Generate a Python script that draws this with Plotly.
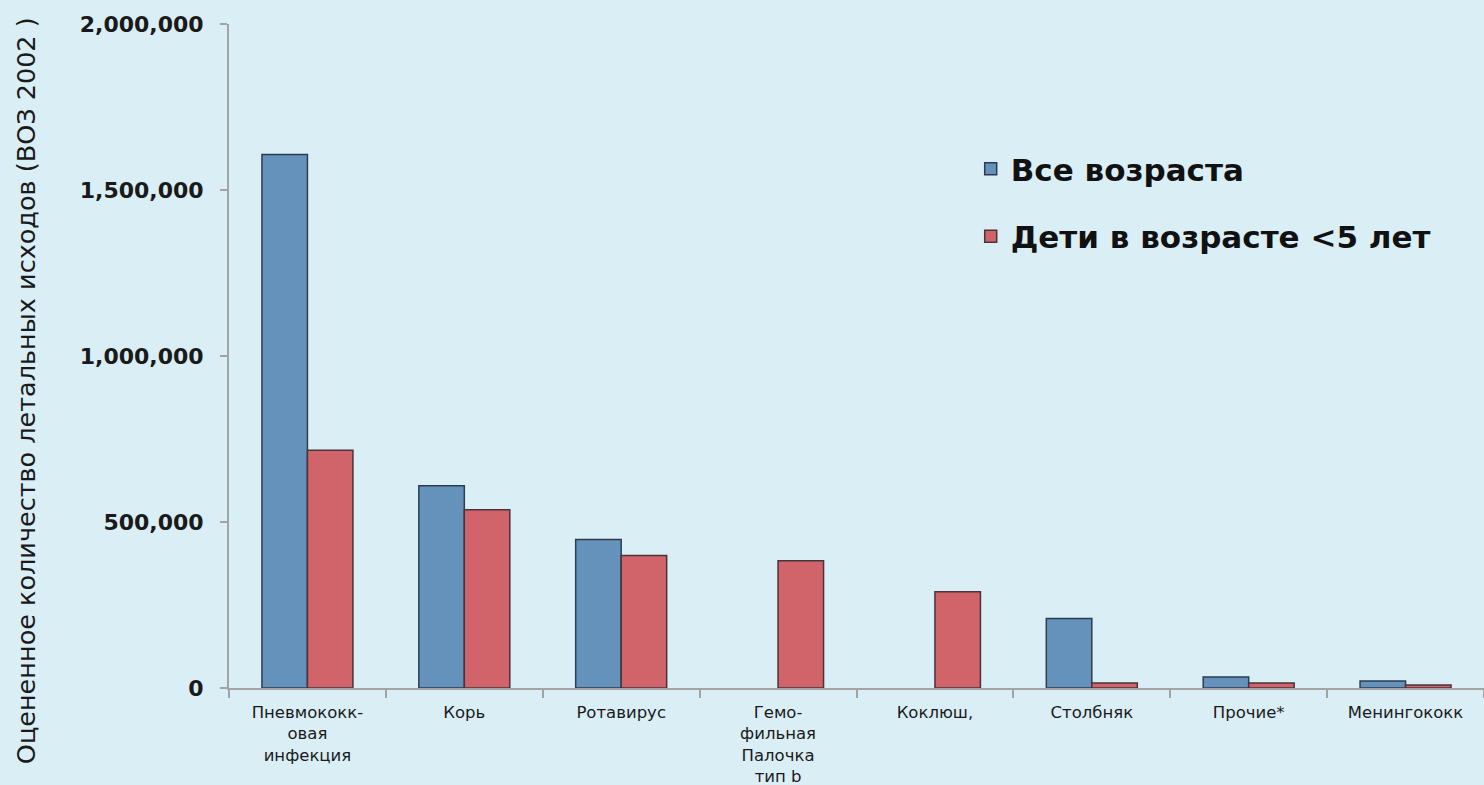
import plotly.graph_objects as go

categories = [
    "Пневмококк-<br>овая<br>инфекция",
    "Корь",
    "Ротавирус",
    "Гемо-<br>фильная<br>Палочка<br>тип b",
    "Коклюш,",
    "Столбняк",
    "Прочие*",
    "Менингококк",
]
all_ages = [1607000, 609000, 447000, None, None, 209000, 33000, 21000]
under5 = [716000, 537000, 399000, 383000, 290000, 15000, 15000, 9000]
y_ticks = [0, 500000, 1000000, 1500000, 2000000]
y_tick_labels = ["0", "500,000", "1,000,000", "1,500,000", "2,000,000"]

bg = "#daeef6"
fig = go.Figure()
fig.add_trace(go.Bar(
    x=categories, y=all_ages, name="Все возраста", legendgroup="a",
    marker=dict(color="#6592bb", line=dict(color="#2c3d52", width=1.5)),
))
fig.add_trace(go.Bar(
    x=categories, y=under5, name="Дети в возрасте <5 лет", legendgroup="b",
    marker=dict(color="#d0646a", line=dict(color="#4a3438", width=1.5)),
))

fig.update_layout(
    width=1484, height=785,
    paper_bgcolor=bg, plot_bgcolor=bg,
    margin=dict(l=229, r=0, t=24, b=97),
    barmode="group", bargap=0.42, bargroupgap=0,
    font=dict(family="DejaVu Sans", color="#1a1a1a"),
    legend=dict(
        x=0.591, y=0.822, xanchor="left", yanchor="top",
        bgcolor="rgba(0,0,0,0)",
        font=dict(family="DejaVu Sans", size=31, color="#111111", weight="bold"),
        tracegroupgap=24,
    ),
    xaxis=dict(
        type="category", showgrid=False, automargin=False,
        showline=True, linecolor="#a3a3a3", linewidth=2,
        ticks="outside", tickson="boundaries", ticklen=8, tickcolor="#a3a3a3", tickwidth=2,
        tickfont=dict(family="DejaVu Sans", size=16.5, color="#1a1a1a"),
        tickangle=0, ticklabelstandoff=8,
    ),
    yaxis=dict(
        range=[0, 2000000], showgrid=False, zeroline=False, automargin=False,
        showline=True, linecolor="#a3a3a3", linewidth=2,
        ticks="outside", ticklen=7, tickcolor="#a3a3a3", tickwidth=2,
        tickvals=y_ticks, ticktext=y_tick_labels,
        tickfont=dict(family="DejaVu Sans", size=22, color="#1a1a1a", weight="bold"),
        ticklabelstandoff=12,
    ),
    annotations=[dict(
        text="Оцененное количество летальных исходов (ВОЗ 2002 )",
        xref="paper", yref="paper", x=(26 - 229) / 1255, y=0.447,
        xanchor="center", yanchor="middle", textangle=-90, showarrow=False,
        font=dict(family="DejaVu Sans", size=25.5, color="#1a1a1a"),
    )],
)

fig.write_html("out.html", config={"displayModeBar": False},
               post_script="document.body.style.margin='0';")
